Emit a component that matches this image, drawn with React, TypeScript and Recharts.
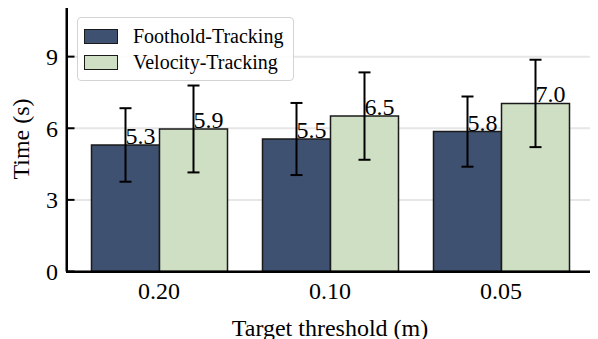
import React from 'react';
import { BarChart, Bar, XAxis, YAxis, CartesianGrid, Legend, ErrorBar, LabelList } from 'recharts';

const categories = ['0.20', '0.10', '0.05'];
const footholdTime = [5.3, 5.55, 5.86];
const footholdErr = [1.54, 1.51, 1.47];
const velocityTime = [5.97, 6.51, 7.04];
const velocityErr = [1.82, 1.83, 1.83];
const yTicks = [0, 3, 6, 9];
const yMax = 11.1;

const FONT = '"Liberation Serif", "Times New Roman", serif';
const DARK = '#3e5170';
const LIGHT = '#cfdfc4';
const W = 598;
const H = 339;
const MARGIN = { top: 6.5, right: 4.5, left: 0.5, bottom: 0 };
const Y_AXIS_W = 66;
const X_AXIS_H = 67.5;
const LEGEND_POS = { left: 77, top: 17 };

const data = categories.map((name, i) => ({
  name,
  foothold: footholdTime[i],
  footholdErr: footholdErr[i],
  velocity: velocityTime[i],
  velocityErr: velocityErr[i],
}));

// matplotlib-style label: left edge at bar centre, sitting on the bar top
const renderValue = (props: any) => {
  const { x, y, width, value } = props;
  const txt = (Math.floor(Number(value) * 10 + 1e-9) / 10).toFixed(1);
  return (
    <text x={Number(x) + Number(width) / 2} y={Number(y) - 1} textAnchor="start" fontSize={24} fontFamily={FONT} fill="#000">
      {txt}
    </text>
  );
};

// plot box derived from the chart margins and axis sizes
const plotLeft = MARGIN.left + Y_AXIS_W;
const plotTop = MARGIN.top;
const plotW = W - plotLeft - MARGIN.right;
const plotH = H - plotTop - MARGIN.bottom - X_AXIS_H;

const renderLegend = (props: any) => {
  const { payload } = props;
  return (
    <div style={{ position: 'relative' }}>
      {/* full box spines like matplotlib, placed relative to the legend wrapper */}
      <div
        style={{
          position: 'absolute',
          left: plotLeft - 1 - LEGEND_POS.left,
          top: plotTop - 1 - LEGEND_POS.top,
          width: plotW + 2,
          height: plotH + 2,
          border: '2px solid #000',
          boxSizing: 'border-box',
          pointerEvents: 'none',
        }}
      />
      <div
        style={{
          position: 'relative',
          border: '1.5px solid #d4d4d4',
          borderRadius: 4,
          background: 'rgba(255,255,255,0.85)',
          padding: '6px 10px 5px 6px',
          fontFamily: FONT,
          fontSize: 20,
        }}
      >
        {payload.map((p: any) => (
          <div key={p.value} style={{ display: 'flex', alignItems: 'center', height: 25.5 }}>
            <span
              style={{
                display: 'inline-block',
                width: 32,
                height: 13,
                background: p.color,
                border: '1.5px solid #1a1a1a',
                marginRight: 15,
              }}
            />
            <span>{p.value}</span>
          </div>
        ))}
      </div>
    </div>
  );
};

const spine = { stroke: '#000', strokeWidth: 2 };

export default function App() {
  return (
    <div style={{ position: 'relative', marginLeft: -8, marginTop: -8, width: W, height: H }}>
      <BarChart width={W} height={H} data={data} margin={MARGIN} barGap={0} barSize={68}>
        <CartesianGrid vertical={false} stroke="#e6e6e6" strokeWidth={2} />
        <XAxis
          dataKey="name"
          height={X_AXIS_H}
          padding={{ left: 7, right: 7 }}
          tickLine={false}
          tickSize={0}
          tickMargin={10}
          axisLine={spine}
          tick={{ fill: '#000', fontSize: 24, fontFamily: FONT }}
          label={{ value: 'Target threshold (m)', position: 'insideBottom', offset: 3.5, fill: '#000', fontSize: 24, fontFamily: FONT }}
        />
        <YAxis
          domain={[0, yMax]}
          ticks={yTicks}
          width={Y_AXIS_W}
          tickSize={-8}
          tickMargin={16.5}
          tickLine={spine}
          axisLine={spine}
          tick={{ fill: '#000', fontSize: 24, fontFamily: FONT }}
          label={{ value: 'Time (s)', angle: -90, position: 'insideLeft', offset: 19.5, style: { textAnchor: 'middle' }, fill: '#000', fontSize: 24, fontFamily: FONT }}
        />
        <Legend
          layout="vertical"
          align="center"
          verticalAlign="middle"
          content={renderLegend}
          wrapperStyle={{ left: LEGEND_POS.left, top: LEGEND_POS.top, width: 'auto' }}
        />
        <Bar dataKey="foothold" name="Foothold-Tracking" fill={DARK} stroke="#1a1a1a" strokeWidth={1.5} isAnimationActive={false}>
          <LabelList dataKey="foothold" content={renderValue} />
          <ErrorBar dataKey="footholdErr" direction="y" width={6} stroke="#000" strokeWidth={2} isAnimationActive={false} />
        </Bar>
        <Bar dataKey="velocity" name="Velocity-Tracking" fill={LIGHT} stroke="#1a1a1a" strokeWidth={1.5} isAnimationActive={false}>
          <LabelList dataKey="velocity" content={renderValue} />
          <ErrorBar dataKey="velocityErr" direction="y" width={6} stroke="#000" strokeWidth={2} isAnimationActive={false} />
        </Bar>
      </BarChart>
    </div>
  );
}
